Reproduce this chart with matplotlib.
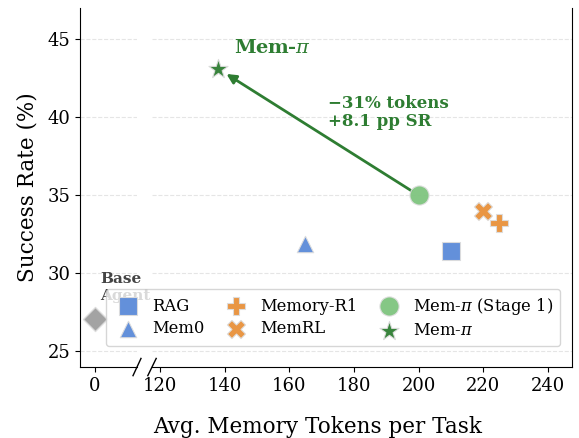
import numpy as np
import matplotlib
matplotlib.use("Agg")
import matplotlib.pyplot as plt

plt.rcParams['font.family'] = ['DejaVu Serif']
plt.rcParams['mathtext.fontset'] = 'dejavuserif'

# Data (tokens per task, success rate %)
base_tokens, base_sr = 0, 27.1
methods = ['RAG', 'Mem0', 'Memory-R1', 'MemRL', 'Mem-$\\pi$ (Stage 1)', 'Mem-$\\pi$']
tokens = [210, 165, 225, 220, 200, 138]
success = [31.4, 31.85, 33.2, 34.0, 35.0, 43.1]
markers = ['s', '^', 'P', 'X', 'o', '*']
colors = ['#5b8ad8', '#5b8ad8', '#e8913a', '#e8913a', '#7fc47f', '#2e7d32']
sizes = [150, 140, 170, 170, 190, 210]

green = '#2e7d32'

fig = plt.figure(figsize=(5.79, 4.38), dpi=100)
bottom, top = 0.162, 0.982
ax1 = fig.add_axes([80/579, bottom, 57/579, top - bottom])
ax2 = fig.add_axes([152/579, bottom, 420/579, top - bottom], sharey=ax1)

for ax in (ax1, ax2):
    ax.set_ylim(24, 47)
    ax.grid(axis='y', linestyle='--', color='#cccccc', alpha=0.5, linewidth=0.8)
    ax.set_axisbelow(True)
    ax.spines['top'].set_visible(False)
    ax.tick_params(labelsize=13)

ax1.spines['right'].set_visible(False)
ax2.spines['left'].set_visible(False)
ax2.tick_params(axis='y', left=False, labelleft=False)
ax1.set_xlim(-4.5, 13)
ax1.set_xticks([0])
ax2.set_xlim(117.5, 247.5)
ax2.set_xticks([120, 140, 160, 180, 200, 220, 240])
ax1.set_yticks([25, 30, 35, 40, 45])

# base agent
ax1.scatter([base_tokens], [base_sr], marker='D', s=150, color='#999999',
            edgecolor='#dddddd', linewidth=1, alpha=0.9, zorder=3, clip_on=False)
ax1.text(1.8, 29.1, 'Base\nAgent', fontsize=11, fontweight='bold', color='#444444',
         ha='left', va='center', zorder=2, clip_on=False)

handles = []
for m, x, y, mk, c, s in zip(methods, tokens, success, markers, colors, sizes):
    h = ax2.scatter([x], [y], marker=mk, s=s, color=c, edgecolor='#dddddd',
                    linewidth=0.8, alpha=0.95, zorder=3, label=m)
    handles.append(h)

# arrow from stage 1 to final
ax2.annotate('', xy=(tokens[5], success[5]), xytext=(tokens[4], success[4]),
             arrowprops=dict(arrowstyle='-|>', color=green, lw=2, shrinkA=6, shrinkB=7,
                             mutation_scale=14), zorder=2)
ax2.text(143, 44.4, 'Mem-$\\pi$', color=green, fontsize=14, fontweight='bold',
         ha='left', va='center')
ax2.text(172, 40.3, '\u221231% tokens\n+8.1 pp SR', color=green, fontsize=12,
         fontweight='bold', ha='left', va='center', linespacing=1.1)

# break marks
d = 0.012
kw = dict(color='k', clip_on=False, linewidth=1)
ax1.plot([1 - 0.07, 1 + 0.07], [-d*2, d*2], transform=ax1.transAxes, **kw)
ax2.plot([-0.01, 0.01], [-d*2, d*2], transform=ax2.transAxes, **kw)

leg = ax2.legend(handles=handles, ncol=3, loc='lower right', fontsize=11.8,
                 bbox_to_anchor=(0.971, 0.0585), borderaxespad=0,
                 framealpha=0.8, edgecolor='#cccccc',
                 handletextpad=0.5, columnspacing=1.0, borderpad=0.4,
                 labelspacing=0.35, handlelength=1.9)
leg.set_zorder(5)

ax1.set_ylabel('Success Rate (%)', fontsize=15.5, labelpad=6)
fig.text(318/579, 1 - 427/438, 'Avg. Memory Tokens per Task', fontsize=15.5,
         ha='center', va='center')

fig.savefig('out.png', dpi=100)
